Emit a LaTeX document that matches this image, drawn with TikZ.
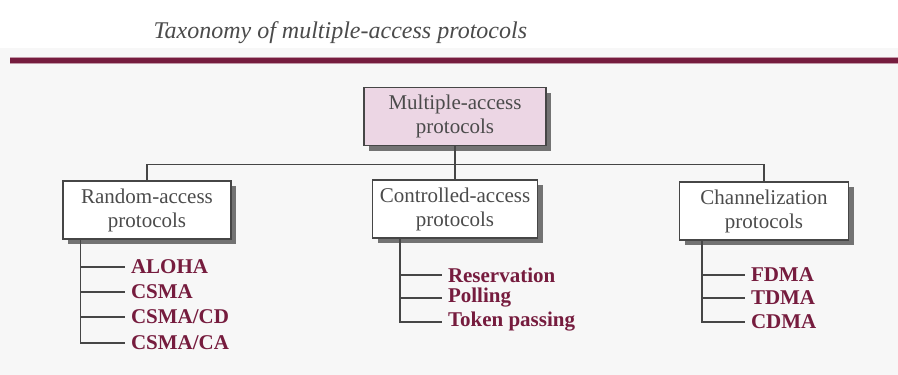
\documentclass[tikz,border=0pt]{standalone}
\usepackage{fontspec}
\setmainfont{Liberation Serif}
\usetikzlibrary{shadows}
\definecolor{maroon}{RGB}{118,28,62}
\definecolor{boxline}{RGB}{70,70,70}
\definecolor{boxtext}{RGB}{75,75,75}
\definecolor{pinkfill}{RGB}{236,214,228}
\definecolor{bg}{RGB}{247,247,247}
\begin{document}
\begin{tikzpicture}[x=1pt,y=1pt,
  catbox/.style={draw=boxline, line width=1.2pt, fill=white, minimum height=58pt,
    align=center, font=\fontsize{21}{24}\selectfont, text=boxtext, inner sep=2pt,
    drop shadow={shadow xshift=5pt, shadow yshift=-5pt, fill=black!55, opacity=1}},
  item/.style={anchor=west, inner sep=0pt, outer sep=6pt, text=maroon,
    font=\fontsize{21}{24}\selectfont\bfseries},
  conn/.style={draw=boxline, line width=1.2pt}]
\useasboundingbox (0,0) rectangle (898,-375);
\fill[bg] (0,-48) rectangle (898,-375);
\fill[white] (0,0) rectangle (898,-48);
\node[anchor=west, text=boxtext, font=\fontsize{24}{28}\selectfont\itshape] (title) at (150,-33) {Taxonomy of multiple-access protocols};
\fill[maroon!45] (10,-56.5) rectangle (898,-63.5);
\fill[maroon] (10,-57.5) rectangle (898,-62.5);
\node[catbox, fill=pinkfill, minimum width=182pt] (top) at (455,-116.5) {Multiple-access\\protocols};
\node[catbox, minimum width=168pt] (left) at (147,-210) {Random-access\\protocols};
\node[catbox, minimum width=165pt] (mid) at (455,-209) {Controlled-access\\protocols};
\node[catbox, minimum width=169pt] (right) at (764,-211) {Channelization\\protocols};
\draw[conn] (top.south) -- (mid.north);
\draw[conn] (left.north) -- ++(0,16) -| (right.north);
% left items
\node[item] (aloha) at (125,-267) {ALOHA};
\node[item] (csma) at (125,-292) {CSMA};
\node[item] (csmacd) at (125,-317) {CSMA/CD};
\node[item] (csmaca) at (125,-343) {CSMA/CA};
\coordinate (lt) at ([xshift=18pt]left.south west);
\draw[conn] (lt) |- (csmaca.west);
\draw[conn] (lt |- aloha.west) -- (aloha.west);
\draw[conn] (lt |- csma.west) -- (csma.west);
\draw[conn] (lt |- csmacd.west) -- (csmacd.west);
% middle items
\node[item] (res) at (442,-275) {Reservation};
\node[item] (poll) at (442,-298) {Polling};
\node[item] (token) at (442,-322) {Token passing};
\coordinate (mt) at ([xshift=28pt]mid.south west);
\draw[conn] (mt) |- (token.west);
\draw[conn] (mt |- res.west) -- (res.west);
\draw[conn] (mt |- poll.west) -- (poll.west);
% right items
\node[item] (fdma) at (745,-275) {FDMA};
\node[item] (tdma) at (745,-298) {TDMA};
\node[item] (cdma) at (745,-322) {CDMA};
\coordinate (rt) at ([xshift=23pt]right.south west);
\draw[conn] (rt) |- (cdma.west);
\draw[conn] (rt |- fdma.west) -- (fdma.west);
\draw[conn] (rt |- tdma.west) -- (tdma.west);
\end{tikzpicture}
\end{document}
